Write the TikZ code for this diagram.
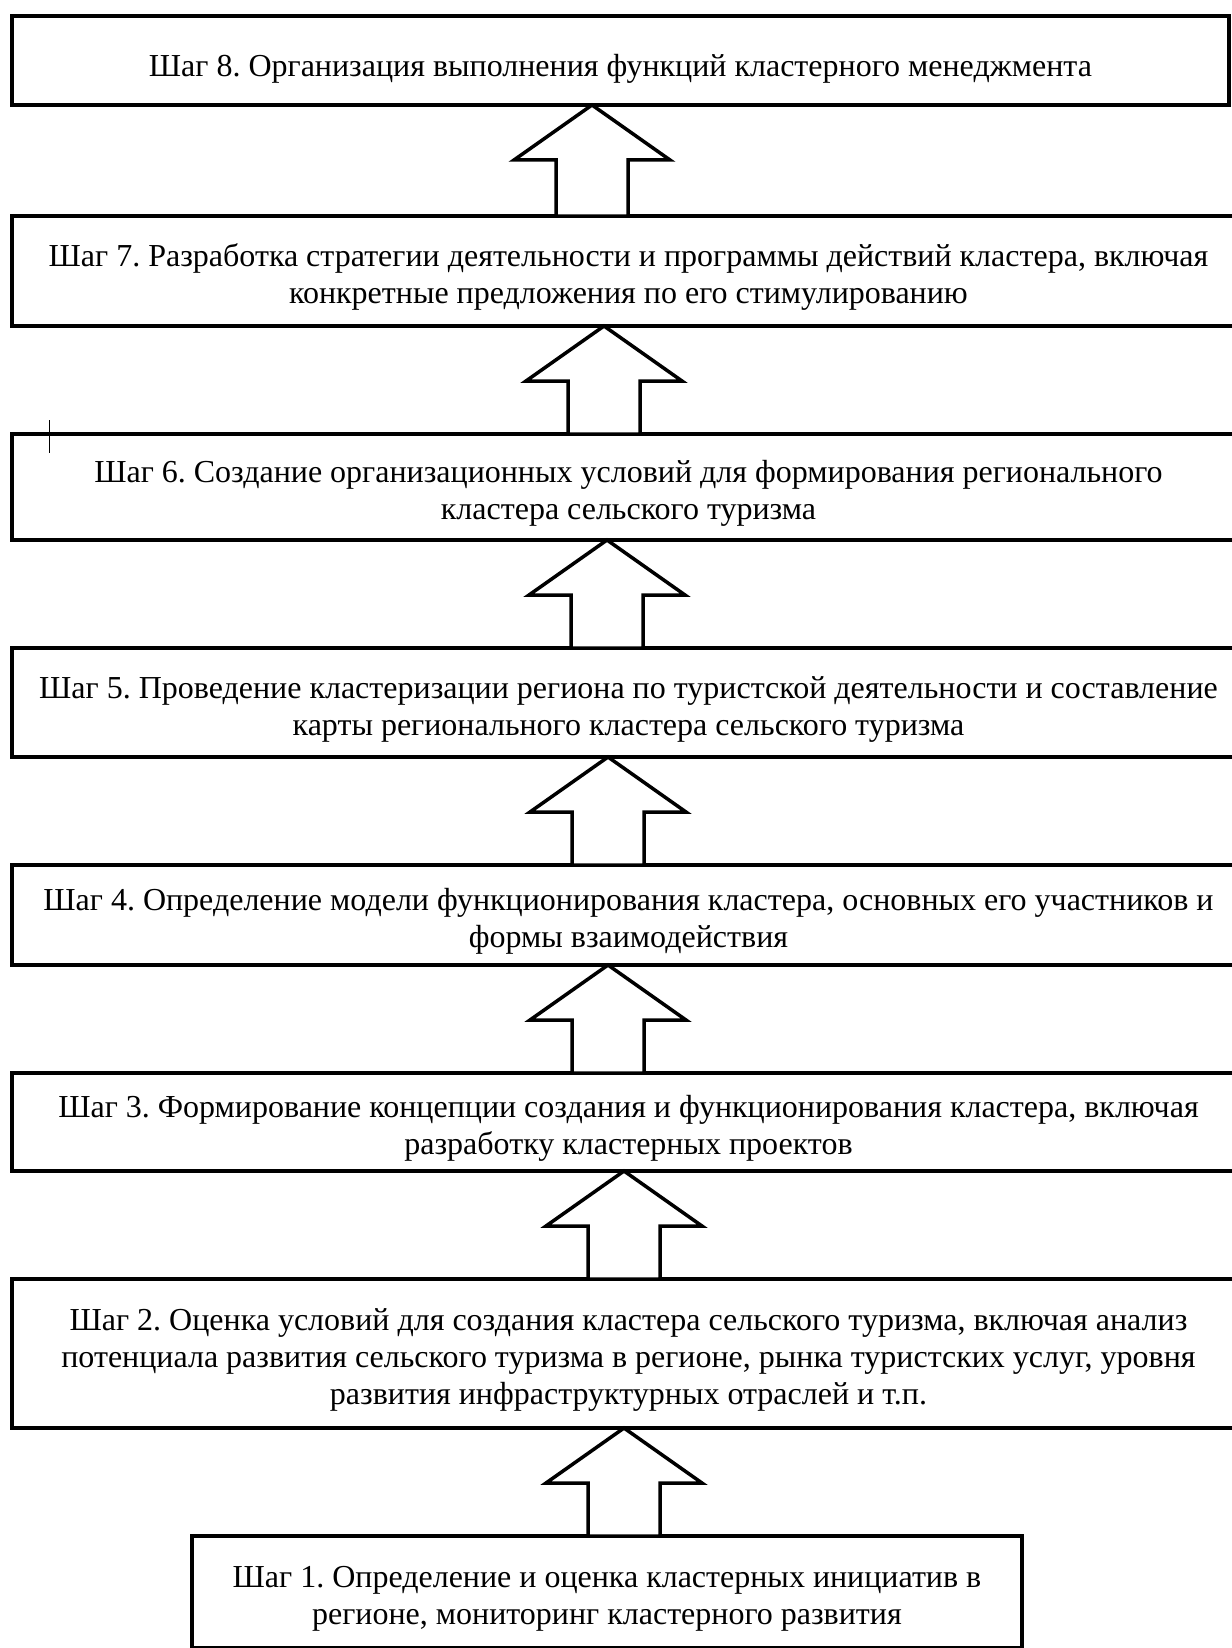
\documentclass[tikz,border=0pt]{standalone}
\usepackage{fontspec}
\setmainfont{Liberation Serif}
\usetikzlibrary{positioning, calc}
\frenchspacing

% extra room above the first line of a step
\newcommand{\topgap}[1][35pt]{\rule{0pt}{#1}}

% hollow upward arrow from the lower step to the upper step
\newcommand{\upblock}[3]{%
  \path ($(#1.north)+(#3,0)$) coordinate (b) (b |- #2.south) coordinate (t);
  \draw[blockarrow] (t) -- ++(78,-55) -- ++(-42,0) -- ($(b)+(36,0)$)
    -- ($(b)+(-36,0)$) -- ($(t)+(-36,-55)$) -- ++(-42,0) -- cycle;}

\begin{document}
\begin{tikzpicture}[x=1pt, y=1pt, node distance=108pt]
\tikzstyle{stage}=[rectangle, draw=black, line width=3.5pt, outer sep=0pt,
                   inner sep=0pt, minimum width=1233pt, minimum height=106pt,
                   align=center, font=\fontsize{32}{37}\selectfont]
\tikzstyle{blockarrow}=[draw=black, fill=white, line width=3.5pt, line join=miter]
  \useasboundingbox (0,0) rectangle (1231,-1648);
  \node[stage, minimum width=1217pt, minimum height=89pt] (S8) at (620.5,-60.5)
    {\topgap[38pt]Шаг 8. Организация выполнения функций кластерного менеджмента};
  \node[stage, minimum height=110pt] (S7) [below=111pt of S8, xshift=8pt]
    {\topgap Шаг 7. Разработка стратегии деятельности и программы действий кластера, включая\\
     конкретные предложения по его стимулированию};
  \node[stage] (S6) [below=of S7]
    {\topgap Шаг 6. Создание организационных условий для формирования регионального\\
     кластера сельского туризма};
  \node[stage, minimum height=109pt] (S5) [below=of S6]
    {\topgap Шаг 5. Проведение кластеризации региона по туристской деятельности и составление\\
     карты регионального кластера сельского туризма};
  \node[stage, minimum height=100pt] (S4) [below=of S5]
    {\topgap Шаг 4. Определение модели функционирования кластера, основных его участников и\\
     формы взаимодействия};
  \node[stage, minimum height=98pt] (S3) [below=of S4]
    {\topgap Шаг 3. Формирование концепции создания и функционирования кластера, включая\\
     разработку кластерных проектов};
  \node[stage, minimum height=149pt] (S2) [below=of S3]
    {\topgap Шаг 2. Оценка условий для создания кластера сельского туризма, включая анализ\\
     потенциала развития сельского туризма в регионе, рынка туристских услуг, уровня\\
     развития инфраструктурных отраслей и т.п.};
  \node[stage, minimum width=830pt, minimum height=112pt] (S1) [below=of S2, xshift=-21.5pt]
    {\topgap Шаг 1. Определение и оценка кластерных инициатив в\\
     регионе, мониторинг кластерного развития};
  \upblock{S7}{S8}{-36.5}
  \upblock{S6}{S7}{-24.5}
  \upblock{S5}{S6}{-21.5}
  \upblock{S4}{S5}{-20.5}
  \upblock{S3}{S4}{-20.5}
  \upblock{S2}{S3}{-4.5}
  \upblock{S1}{S2}{17}
  \draw[line width=1pt] (49,-420) -- (49,-453);
\end{tikzpicture}
\end{document}
